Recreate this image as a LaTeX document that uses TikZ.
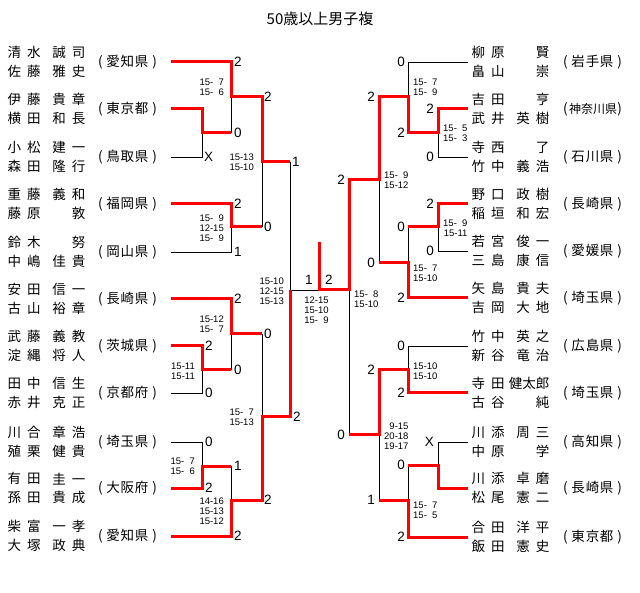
\documentclass[tikz,border=0pt]{standalone}
\usepackage{fontspec}
\setmainfont{Liberation Sans}
\newfontfamily\jp{Noto Sans CJK JP}
\newcommand\ph{\phantom{0}}
% name, y, fam1, giv1, fam2, giv2, pref
\newcommand\teamL[7]{%
  \node[nm,anchor=west] (#1a) at (7.5,#2-9.3) {\makebox[33pt]{#3}};
  \node[nm,anchor=east] (#1b) at (85.5,#2-9.3) {\makebox[33pt]{#4}};
  \node[nm,anchor=west] (#1c) at (7.5,#2+9.3) {\makebox[33pt]{#5}};
  \node[nm,anchor=east] (#1d) at (85.5,#2+9.3) {\makebox[33pt]{#6}};
  \node[nm] (#1p) at (127.5,#2) {\makebox[59pt]{(\hfill\makebox[42pt]{#7}\hfill)}};
}
\newcommand\teamR[7]{%
  \node[nm,anchor=west] (#1a) at (471.5,#2-9.3) {\makebox[33pt]{#3}};
  \node[nm,anchor=east] (#1b) at (549.5,#2-9.3) {\makebox[33pt]{#4}};
  \node[nm,anchor=west] (#1c) at (471.5,#2+9.3) {\makebox[33pt]{#5}};
  \node[nm,anchor=east] (#1d) at (549.5,#2+9.3) {\makebox[33pt]{#6}};
  \node[nm] (#1p) at (592.5,#2) {\makebox[59pt]{(\hfill\makebox[42pt]{#7}\hfill)}};
}
\begin{document}
\begin{tikzpicture}[x=1pt,y=-1pt,
  win/.style={draw=red,line width=3pt,line join=miter},
  lose/.style={draw=black,line width=0.8pt},
  sc/.style={font=\fontsize{13.5}{13.5}\selectfont,inner sep=0pt},
  pts/.style={font=\fontsize{9.5}{9.8}\selectfont,inner sep=0pt,align=right},
  nm/.style={font=\jp\fontsize{13.5}{13.5}\selectfont,inner sep=0pt},
]
\useasboundingbox[fill=white] (0,0) rectangle (640,593);
\node[font=\jp\fontsize{15}{15}\selectfont,inner sep=0pt] (title) at (320,18.5) {50歳以上男子複};

% ---------- teams left
\teamL{L1}{62}{清\hfill 水}{誠\hfill 司}{佐\hfill 藤}{雅\hfill 史}{愛\hfill 知\hfill 県}
\teamL{L2}{109}{伊\hfill 藤}{貴\hfill 章}{横\hfill 田}{和\hfill 長}{東\hfill 京\hfill 都}
\teamL{L3}{157}{小\hfill 松}{建\hfill 一}{森\hfill 田}{隆\hfill 行}{鳥\hfill 取\hfill 県}
\teamL{L4}{204}{重\hfill 藤}{義\hfill 和}{藤\hfill 原}{\hfill 敦}{福\hfill 岡\hfill 県}
\teamL{L5}{252}{鈴\hfill 木}{\hfill 努}{中\hfill 嶋}{佳\hfill 貴}{岡\hfill 山\hfill 県}
\teamL{L6}{299}{安\hfill 田}{信\hfill 一}{古\hfill 山}{裕\hfill 章}{長\hfill 崎\hfill 県}
\teamL{L7}{346}{武\hfill 藤}{義\hfill 教}{淀\hfill 縄}{将\hfill 人}{茨\hfill 城\hfill 県}
\teamL{L8}{393}{田\hfill 中}{信\hfill 生}{赤\hfill 井}{克\hfill 正}{京\hfill 都\hfill 府}
\teamL{L9}{442}{川\hfill 合}{章\hfill 浩}{殖\hfill 栗}{健\hfill 貴}{埼\hfill 玉\hfill 県}
\teamL{L10}{488}{有\hfill 田}{圭\hfill 一}{孫\hfill 田}{貴\hfill 成}{大\hfill 阪\hfill 府}
\teamL{L11}{536}{柴\hfill 富}{一\hfill 孝}{大\hfill 塚}{政\hfill 典}{愛\hfill 知\hfill 県}

% ---------- teams right
\teamR{R1}{62}{柳\hfill 原}{\hfill 賢}{畠\hfill 山}{\hfill 崇}{岩\hfill 手\hfill 県}
\teamR{R2}{109}{吉\hfill 田}{\hfill 亨}{武\hfill 井}{英\hfill 樹}{}
\teamR{R3}{157}{寺\hfill 西}{\hfill 了}{竹\hfill 中}{義\hfill 浩}{石\hfill 川\hfill 県}
\teamR{R4}{204}{野\hfill 口}{政\hfill 樹}{稲\hfill 垣}{和\hfill 宏}{長\hfill 崎\hfill 県}
\teamR{R5}{251}{若\hfill 宮}{俊\hfill 一}{三\hfill 島}{康\hfill 信}{愛\hfill 媛\hfill 県}
\teamR{R6}{298}{矢\hfill 島}{貴\hfill 夫}{吉\hfill 岡}{大\hfill 地}{埼\hfill 玉\hfill 県}
\teamR{R7}{346}{竹\hfill 中}{英\hfill 之}{新\hfill 谷}{竜\hfill 治}{広\hfill 島\hfill 県}
\teamR{R8}{393}{寺\hfill 田}{\hbox to 33pt{\hss 健太郎}}{古\hfill 谷}{\hfill 純}{埼\hfill 玉\hfill 県}
\teamR{R9}{442}{川\hfill 添}{周\hfill 三}{中\hfill 原}{\hfill 学}{高\hfill 知\hfill 県}
\teamR{R10}{488}{川\hfill 添}{卓\hfill 磨}{松\hfill 尾}{憲\hfill 二}{長\hfill 崎\hfill 県}
\teamR{R11}{537}{合\hfill 田}{洋\hfill 平}{飯\hfill 田}{憲\hfill 史}{東\hfill 京\hfill 都}
\node[font=\jp\fontsize{12}{12}\selectfont,inner sep=0pt] (R2q) at (593,109) {\makebox[46pt]{神\hfill 奈\hfill 川\hfill 県}};

% ---------- losing (black) lines, left
\draw[lose] (171,157) -| (202,133);
\draw[lose] (231,97) -- (231,133);
\draw[lose] (290,162) -- (290,290);
\draw[lose] (171,252) -| (231,227);
\draw[lose] (262,162) -- (262,227);
\draw[lose] (171,393) -| (202,370);
\draw[lose] (231,334) -- (231,370);
\draw[lose] (171,442) -| (202,466);
\draw[lose] (231,466) -- (231,500);
\draw[lose] (262,334) -- (262,417);
\draw[lose] (290,290) -- (319,290);
% ---------- losing lines, right
\draw[lose] (468,62) -| (408,97);
\draw[lose] (468,157) -| (438,133);
\draw[lose] (468,251) -| (438,227);
\draw[lose] (408,227) -- (408,263);
\draw[lose] (379,180) -- (379,263);
\draw[lose] (468,346) -| (408,370);
\draw[lose] (349,290) -- (349,435);
\draw[lose] (468,442) -| (438,465);
\draw[lose] (408,465) -- (408,500);
\draw[lose] (379,435) -- (379,500);

% ---------- winning (red) lines, left
\draw[win] (171,62) -| (231,97) -| (262,162) -- (290,162);
\draw[win] (171,109) -| (202,133) -- (231,133);
\draw[win] (171,204) -| (231,227) -- (262,227);
\draw[win] (171,299) -| (231,334) -- (262,334);
\draw[win] (171,346) -| (202,370) -- (231,370);
\draw[win] (171,488) -| (202,466) -- (231,466);
\draw[win] (171,536) -| (231,500) -| (262,417) -| (290,290);
% ---------- winning lines, right
\draw[win] (468,109) -| (438,133) -| (408,97) -| (379,180) -| (349,290) -| (319,242);
\draw[win] (468,204) -| (438,227) -- (408,227);
\draw[win] (468,298) -| (408,263) -- (379,263);
\draw[win] (468,393) -| (408,370) -| (379,435) -- (349,435);
\draw[win] (468,488) -| (438,465) -- (408,465);
\draw[win] (468,537) -| (408,500) -- (379,500);

% ---------- match scores, left
\node[sc,anchor=west] (s1) at (234,62) {2};
\node[sc,anchor=west] (s2) at (234,133) {0};
\node[sc,anchor=west] (s3) at (204,157) {X};
\node[sc,anchor=west] (s4) at (264,97) {2};
\node[sc,anchor=west] (s5) at (292,162) {1};
\node[sc,anchor=west] (s6) at (234,204) {2};
\node[sc,anchor=west] (s7) at (234,252) {1};
\node[sc,anchor=west] (s8) at (264,227) {0};
\node[sc,anchor=west] (s9) at (234,299) {2};
\node[sc,anchor=west] (s10) at (205,346) {2};
\node[sc,anchor=west] (s11) at (205,393) {0};
\node[sc,anchor=west] (s12) at (234,370) {0};
\node[sc,anchor=west] (s13) at (264,334) {0};
\node[sc,anchor=west] (s14) at (205,442) {0};
\node[sc,anchor=west] (s15) at (205,488) {2};
\node[sc,anchor=west] (s16) at (234,466) {1};
\node[sc,anchor=west] (s17) at (234,536) {2};
\node[sc,anchor=west] (s18) at (264,500) {2};
\node[sc,anchor=west] (s19) at (293,417) {2};
\node[sc] (f1) at (309,280) {1};
\node[sc] (f2) at (329,280) {2};
% ---------- match scores, right
\node[sc,anchor=east] (t1) at (405,62) {0};
\node[sc,anchor=east] (t2) at (434,109) {2};
\node[sc,anchor=east] (t3) at (434,157) {0};
\node[sc,anchor=east] (t4) at (405,133) {2};
\node[sc,anchor=east] (t5) at (375,97) {2};
\node[sc,anchor=east] (t6) at (345,180) {2};
\node[sc,anchor=east] (t7) at (434,204) {2};
\node[sc,anchor=east] (t8) at (434,251) {0};
\node[sc,anchor=east] (t9) at (405,227) {0};
\node[sc,anchor=east] (t10) at (405,298) {2};
\node[sc,anchor=east] (t11) at (375,263) {0};
\node[sc,anchor=east] (t12) at (405,346) {0};
\node[sc,anchor=east] (t13) at (405,393) {2};
\node[sc,anchor=east] (t14) at (375,370) {2};
\node[sc,anchor=east] (t15) at (434,442) {X};
\node[sc,anchor=east] (t16) at (405,465) {0};
\node[sc,anchor=east] (t17) at (405,537) {2};
\node[sc,anchor=east] (t18) at (375,500) {1};
\node[sc,anchor=east] (t19) at (345,435) {0};

% ---------- game scores, left
\node[pts,anchor=east] (g1) at (224,87.5) {15-\ph7\\15-\ph6};
\node[pts,anchor=east] (g2) at (254,162) {15-13\\15-10};
\node[pts,anchor=east] (g3) at (224,228) {15-\ph9\\12-15\\15-\ph9};
\node[pts,anchor=east] (g4) at (284,291) {15-10\\12-15\\15-13};
\node[pts,anchor=east] (g5) at (224,324.5) {15-12\\15-\ph7};
\node[pts,anchor=east] (g6) at (195,371) {15-11\\15-11};
\node[pts,anchor=east] (g7) at (254,417) {15-\ph7\\15-13};
\node[pts,anchor=east] (g8) at (195,466) {15-\ph7\\15-\ph6};
\node[pts,anchor=east] (g9) at (224,511) {14-16\\15-13\\15-12};
\node[pts] (gf) at (316.5,310) {12-15\\15-10\\15-\ph9};
% ---------- game scores, right
\node[pts,anchor=west] (h1) at (413,87.5) {15-\ph7\\15-\ph9};
\node[pts,anchor=west] (h2) at (443,133) {15-\ph5\\15-\ph3};
\node[pts,anchor=west] (h3) at (384,180) {15-\ph9\\15-12};
\node[pts,anchor=west] (h4) at (443,228) {15-\ph9\\15-11};
\node[pts,anchor=west] (h5) at (413,273) {15-\ph7\\15-10};
\node[pts,anchor=west] (h6) at (354,299.5) {15-\ph8\\15-10};
\node[pts,anchor=west] (h7) at (413,371) {15-10\\15-10};
\node[pts,anchor=west] (h8) at (384,436) {9-15\\20-18\\19-17};
\node[pts,anchor=west] (h9) at (413,510) {15-\ph7\\15-\ph5};
\end{tikzpicture}
\end{document}
